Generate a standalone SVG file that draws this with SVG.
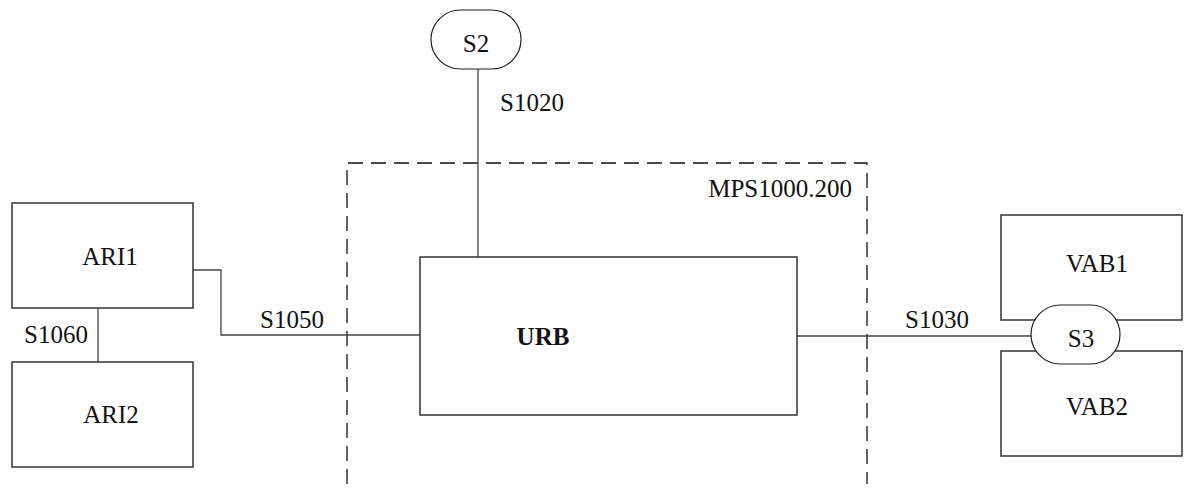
<svg xmlns="http://www.w3.org/2000/svg" width="1187" height="490" viewBox="0 0 1187 490">
<style>
.box{fill:#fff;stroke:#333;stroke-width:1.5}
.pill{fill:#fff;stroke:#222;stroke-width:1.2}
.ln{fill:none;stroke:#444;stroke-width:1.3}
.dash{fill:none;stroke:#111;stroke-width:1.3;stroke-dasharray:15 8}
text{font-family:"Liberation Serif","Times New Roman",serif;font-size:25px;fill:#111}
.c{text-anchor:middle}
.b{font-weight:bold}
</style>
<rect width="1187" height="490" fill="#fff"/>
<g id="boundary">
<path class="dash" d="M347,484 V163 H867 V484"/>
<text x="852" y="197" text-anchor="end">MPS1000.200</text>
</g>
<g id="connectors">
<line class="ln" x1="478" y1="69" x2="478" y2="257"/>
<text x="500" y="111">S1020</text>
<polyline class="ln" points="193,270 221,270 221,335 420,335"/>
<text x="292" y="328" class="c">S1050</text>
<line class="ln" x1="98" y1="308" x2="98" y2="362"/>
<text x="56" y="343" class="c">S1060</text>
<line class="ln" x1="797" y1="336" x2="1031" y2="336"/>
<text x="937" y="328" class="c">S1030</text>
</g>
<g id="S2">
<rect class="pill" x="431" y="10" width="90" height="59" rx="29.5"/>
<text x="476" y="52" class="c">S2</text>
</g>
<g id="URB">
<rect class="box" x="420" y="257" width="377" height="158"/>
<text x="543" y="345" class="c b">URB</text>
</g>
<g id="ARI1">
<rect class="box" x="12" y="203" width="181" height="105"/>
<text x="110" y="265" class="c">ARI1</text>
</g>
<g id="ARI2">
<rect class="box" x="12" y="362" width="181" height="105"/>
<text x="111" y="423" class="c">ARI2</text>
</g>
<g id="VAB1">
<rect class="box" x="1001" y="215" width="181" height="105"/>
<text x="1097" y="272" class="c">VAB1</text>
</g>
<g id="VAB2">
<rect class="box" x="1001" y="351" width="181" height="105"/>
<text x="1097" y="415" class="c">VAB2</text>
</g>
<g id="S3">
<rect class="pill" x="1031" y="305" width="89" height="59" rx="29.5"/>
<text x="1081" y="347" class="c">S3</text>
</g>
</svg>
